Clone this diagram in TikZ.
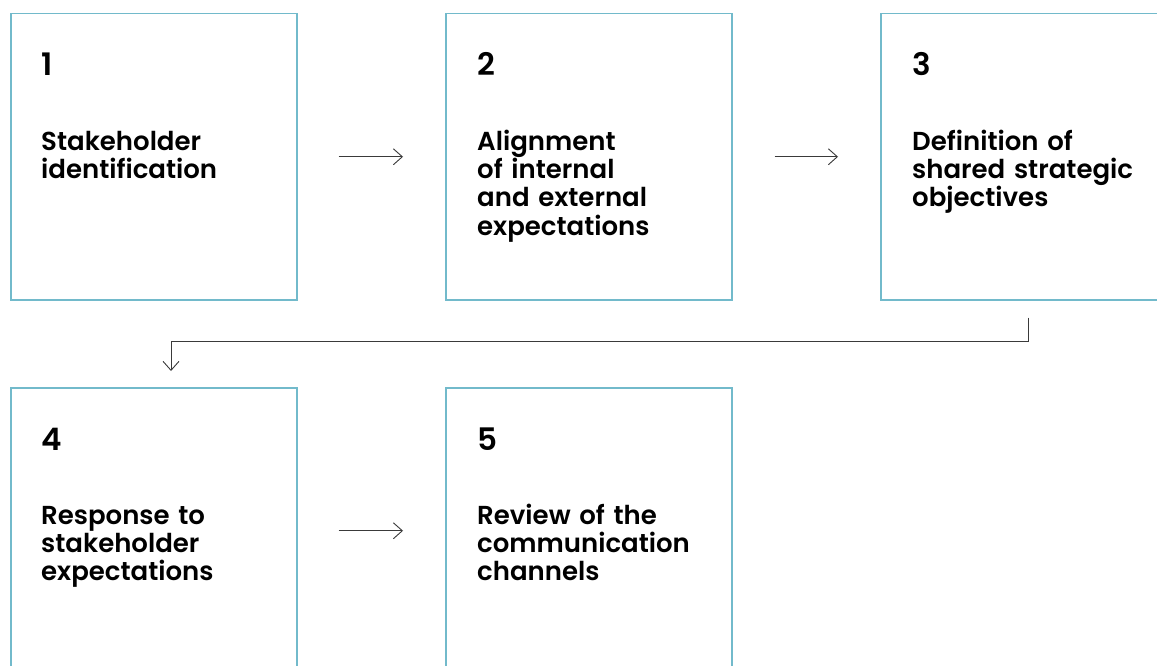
\documentclass[tikz,border=0pt]{standalone}
\usepackage{fontspec}
\setmainfont{Poppins}[UprightFont={* SemiBold},BoldFont={* SemiBold}]
\usepackage{tikz}
\usetikzlibrary{arrows.meta,calc}

\definecolor{boxline}{HTML}{72BACB}
\definecolor{flowline}{HTML}{3A3A3A}

\tikzset{
  stepbox/.style={draw=boxline, line width=1.5pt, minimum width=286pt, minimum height=286pt, anchor=north west, inner sep=0pt},
  stepnum/.style={anchor=base west, inner sep=0pt, font=\fontsize{31}{34}\selectfont},
  steptext/.style={anchor=base west, inner sep=0pt, text width=250pt, align=left, font=\fontsize{26}{28.4}\selectfont},
  flow/.style={draw=flowline, line width=0.9pt, -{Straight Barb[length=9pt,width=16pt,line width=0.9pt]}}
}

\begin{document}
\begin{tikzpicture}[x=1pt,y=-1pt]
   \useasboundingbox (0,0) rectangle (1157,666);
   \clip (0,0) rectangle (1157,666);

   % the five steps
   \node[stepbox] (b1) at (10,13) {};
   \node[stepbox] (b2) at (445,13) {};
   \node[stepbox] (b3) at (880,13) {};
   \node[stepbox] (b4) at (10,387) {};
   \node[stepbox] (b5) at (445,387) {};

   \node[stepnum]  (n1) at ([shift={(31pt,-63pt)}]b1.north west) {1};
   \node[steptext] (t1) at ([shift={(31pt,-137pt)}]b1.north west) {Stakeholder\\identification};

   \node[stepnum]  (n2) at ([shift={(32pt,-63pt)}]b2.north west) {2};
   \node[steptext] (t2) at ([shift={(32pt,-137pt)}]b2.north west) {Alignment\\of internal\\and external\\expectations};

   \node[stepnum]  (n3) at ([shift={(32pt,-63pt)}]b3.north west) {3};
   \node[steptext] (t3) at ([shift={(32pt,-137pt)}]b3.north west) {Definition of\\shared strategic\\objectives};

   \node[stepnum]  (n4) at ([shift={(31pt,-63pt)}]b4.north west) {4};
   \node[steptext] (t4) at ([shift={(31pt,-137pt)}]b4.north west) {Response to\\stakeholder\\expectations};

   \node[stepnum]  (n5) at ([shift={(32pt,-63pt)}]b5.north west) {5};
   \node[steptext] (t5) at ([shift={(32pt,-137pt)}]b5.north west) {Review of the\\communication\\channels};

   % arrows between the steps
   \draw[flow] ([xshift=41pt]b1.east) -- ([xshift=-42pt]b2.west);
   \draw[flow] ([xshift=42pt]b2.east) -- ([xshift=-42pt]b3.west);
   \draw[flow] ([xshift=41pt]b4.east) -- ([xshift=-42pt]b5.west);

   \coordinate (from3) at ([shift={(148pt,-17pt)}]b3.south west);
   \coordinate (to4) at ([shift={(161pt,16pt)}]b4.north west);
   \draw[flow] (from3) -- ++(0,24) -| (to4);
\end{tikzpicture}
\end{document}
